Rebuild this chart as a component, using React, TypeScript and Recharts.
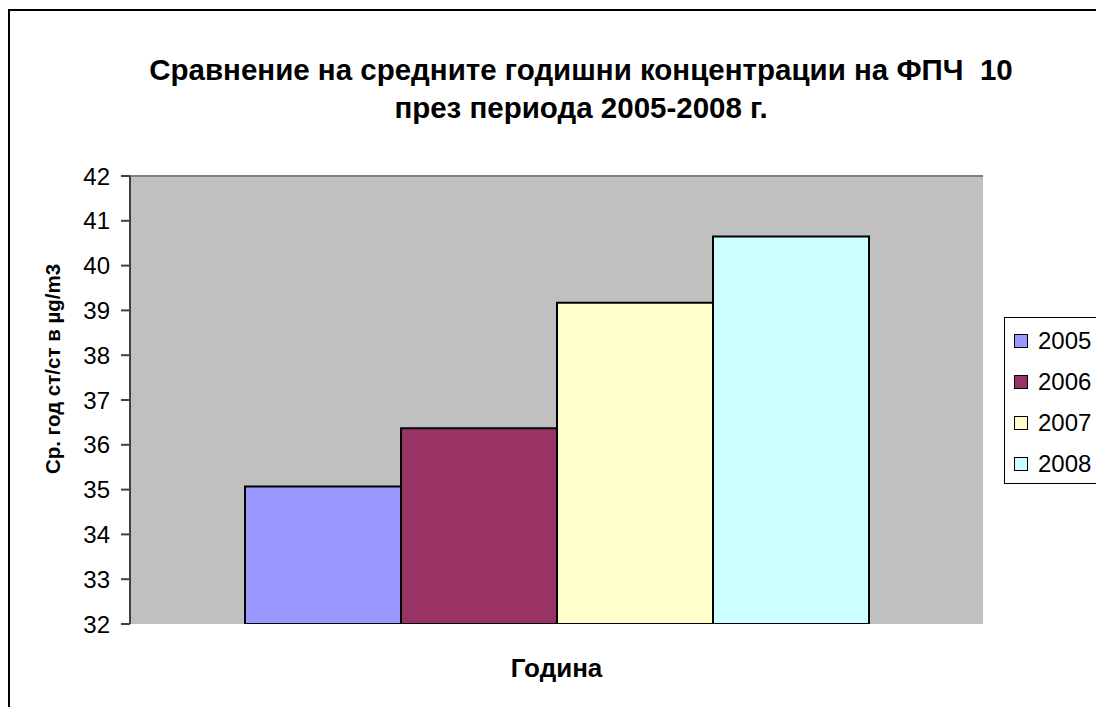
import React from "react";
import { BarChart, Bar, XAxis, YAxis, CartesianGrid, Legend, ReferenceLine } from "recharts";

const categories = ["Година"];
const seriesNames = ["2005", "2006", "2007", "2008"];
const seriesValues = [35.07, 36.37, 39.17, 40.65];
const seriesColors = ["#9999FF", "#993366", "#FFFFCC", "#CCFFFF"];
const yTicks = [32, 33, 34, 35, 36, 37, 38, 39, 40, 41, 42];

const titleLines = [
  "Сравнение на средните годишни концентрации на ФПЧ  10",
  "през периода 2005-2008 г.",
];
const yLabel = "Ср. год ст/ст в µg/m3";
const xLabel = "Година";

const data = categories.map((c) => {
  const row: Record<string, string | number> = { cat: c };
  seriesNames.forEach((s, i) => {
    row["y" + s] = seriesValues[i];
  });
  return row;
});

const FONT = "'Liberation Sans', Arial, sans-serif";

const LegendContent = (props: any) => {
  const payload = props.payload || [];
  return (
    <div
      style={{
        boxSizing: "border-box",
        width: 110,
        height: 167,
        border: "1px solid #000",
        background: "#fff",
        paddingTop: 2,
        fontFamily: FONT,
      }}
    >
      {payload.map((p: any, i: number) => (
        <div
          key={i}
          style={{ height: 41, display: "flex", alignItems: "center", paddingLeft: 9 }}
        >
          <span
            style={{
              display: "inline-block",
              boxSizing: "border-box",
              width: 14,
              height: 14,
              background: p.color,
              border: "1.5px solid #000",
              marginRight: 10,
              flex: "none",
            }}
          />
          <span style={{ fontSize: 24, color: "#000", lineHeight: "24px", whiteSpace: "nowrap" }}>
            {p.value}
          </span>
        </div>
      ))}
    </div>
  );
};

export default function App() {
  return (
    <div
      style={{
        position: "relative",
        width: 1096,
        height: 707,
        overflow: "hidden",
        fontFamily: FONT,
        background: "#fff",
      }}
    >
      <style>{"html,body{margin:0;padding:0;overflow:hidden;}"}</style>
      <div
        style={{
          position: "absolute",
          left: 8,
          top: 9,
          width: 1200,
          height: 800,
          border: "2px solid #000",
          boxSizing: "border-box",
        }}
      />
      <div
        style={{
          position: "absolute",
          left: 81,
          top: 51,
          width: 1000,
          textAlign: "center",
          fontWeight: "bold",
          fontSize: 29.5,
          lineHeight: "38px",
          color: "#000",
          whiteSpace: "pre",
        }}
      >
        {titleLines.map((t, i) => (
          <div key={i}>{t}</div>
        ))}
      </div>
      <div
        style={{
          position: "absolute",
          left: 53,
          top: 369,
          transform: "translate(-50%, -50%) rotate(-90deg)",
          fontWeight: "bold",
          fontSize: 20.5,
          lineHeight: "20.5px",
          whiteSpace: "nowrap",
          color: "#000",
        }}
      >
        {yLabel}
      </div>
      <div
        style={{
          position: "absolute",
          left: 356.5,
          top: 655,
          width: 400,
          textAlign: "center",
          fontWeight: "bold",
          fontSize: 26,
          lineHeight: "26px",
          color: "#000",
        }}
      >
        {xLabel}
      </div>
      <div style={{ position: "absolute", left: 0, top: 0 }}>
        <BarChart
          width={1096}
          height={707}
          data={data}
          margin={{ top: 176, right: 113, bottom: 83, left: 0 }}
          barCategoryGap={115}
          barGap={0}
        >
          <CartesianGrid fill="#C0C0C0" horizontal={false} vertical={false} stroke="none" />
          <XAxis
            dataKey="cat"
            tick={false}
            tickLine={false}
            axisLine={{ stroke: "#808080", strokeWidth: 2 }}
            height={0}
          />
          <YAxis
            width={130}
            domain={[32, 42]}
            ticks={yTicks}
            interval={0}
            allowDataOverflow
            tickSize={9}
            tickMargin={11}
            tick={{ fill: "#000", fontSize: 24, fontFamily: FONT }}
            tickLine={{ stroke: "#404040", strokeWidth: 2 }}
            axisLine={{ stroke: "#404040", strokeWidth: 2 }}
          />
          <YAxis
            yAxisId="right"
            orientation="right"
            width={0}
            domain={[32, 42]}
            ticks={yTicks}
            tick={false}
            tickLine={false}
            axisLine={{ stroke: "#808080", strokeWidth: 2 }}
          />
          <ReferenceLine y={42} stroke="#808080" strokeWidth={2} />
          <Legend
            layout="vertical"
            align="center"
            verticalAlign="middle"
            wrapperStyle={{ position: "absolute", left: 1004, top: 317, width: 110 }}
            content={<LegendContent />}
          />
          {seriesNames.map((s, i) => (
            <Bar
              key={s}
              dataKey={"y" + s}
              name={s}
              fill={seriesColors[i]}
              stroke="#000"
              strokeWidth={2}
              isAnimationActive={false}
            />
          ))}
        </BarChart>
      </div>
    </div>
  );
}
